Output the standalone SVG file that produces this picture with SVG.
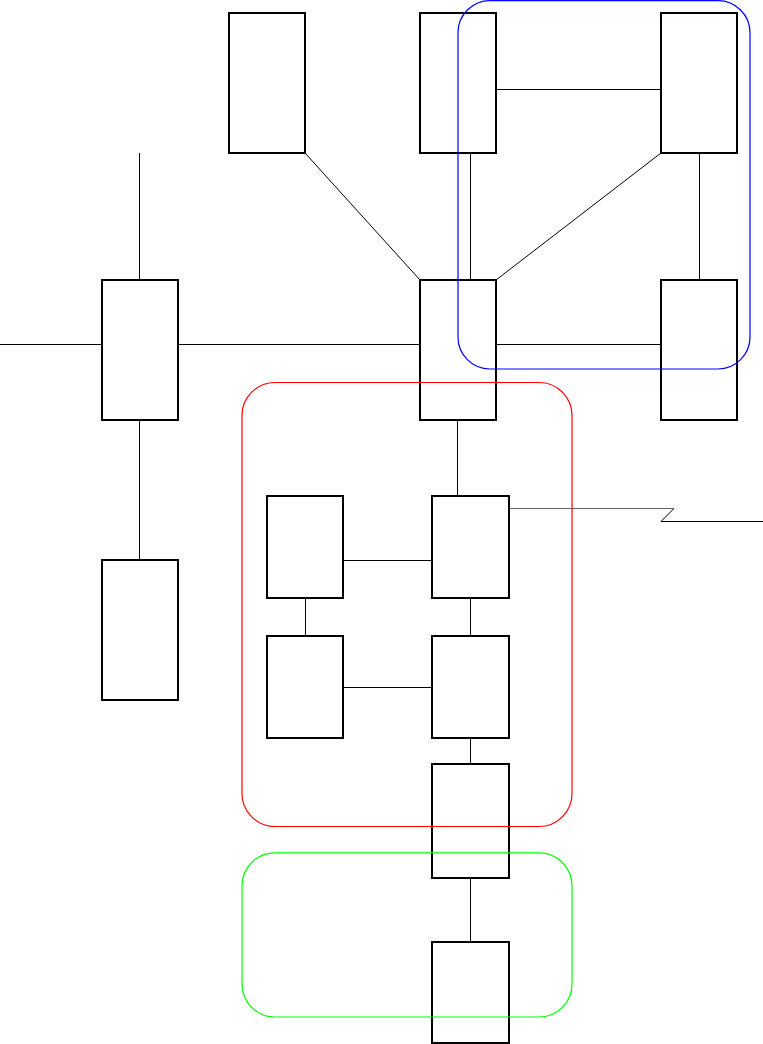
<svg xmlns="http://www.w3.org/2000/svg" width="763" height="1044" viewBox="0 0 763 1044">
<style>
.n{fill:#fff;stroke:#000;stroke-width:2}
.c{stroke:#000;stroke-width:1;fill:none}
.g{fill:none;stroke-width:1.2}
</style>
<rect width="763" height="1044" fill="#fff"/>
<g id="connectors">
<line class="c" x1="139.5" y1="153" x2="139.5" y2="280"/>
<line class="c" x1="0" y1="344.5" x2="102" y2="344.5"/>
<line class="c" x1="178" y1="344.5" x2="420" y2="344.5"/>
<line class="c" x1="139.5" y1="420" x2="139.5" y2="560"/>
<line class="c" x1="305" y1="153" x2="420" y2="280"/>
<line class="c" x1="496" y1="89.5" x2="661" y2="89.5"/>
<line class="c" x1="470.5" y1="153" x2="470.5" y2="280"/>
<line class="c" x1="496" y1="280" x2="661" y2="153"/>
<line class="c" x1="699.5" y1="153" x2="699.5" y2="280"/>
<line class="c" x1="496" y1="344.5" x2="661" y2="344.5"/>
<line class="c" x1="457.5" y1="420" x2="457.5" y2="496"/>
<line class="c" x1="343" y1="560.5" x2="432" y2="560.5"/>
<line class="c" x1="305.5" y1="598" x2="305.5" y2="636"/>
<line class="c" x1="470.5" y1="598" x2="470.5" y2="636"/>
<line class="c" x1="343" y1="687.5" x2="432" y2="687.5"/>
<line class="c" x1="470.5" y1="738" x2="470.5" y2="764"/>
<line class="c" x1="470.5" y1="878" x2="470.5" y2="942"/>
<line x1="509" y1="508.5" x2="674" y2="508.5" stroke="#666" stroke-width="1"/>
<polyline class="c" points="674,508.5 661,521.5 763,521.5"/>
</g>
<g id="n1"><rect class="n" x="229" y="13" width="76" height="140"/></g>
<g id="n2"><rect class="n" x="420" y="13" width="76" height="140"/></g>
<g id="n3"><rect class="n" x="661" y="13" width="76" height="140"/></g>
<g id="n4"><rect class="n" x="102" y="280" width="76" height="140"/></g>
<g id="n5"><rect class="n" x="420" y="280" width="76" height="140"/></g>
<g id="n6"><rect class="n" x="661" y="280" width="76" height="140"/></g>
<g id="n7"><rect class="n" x="102" y="560" width="76" height="140"/></g>
<g id="n8"><rect class="n" x="267" y="496" width="76" height="102"/></g>
<g id="n9"><rect class="n" x="432" y="496" width="77" height="102"/></g>
<g id="n10"><rect class="n" x="267" y="636" width="76" height="102"/></g>
<g id="n11"><rect class="n" x="432" y="636" width="77" height="102"/></g>
<g id="n12"><rect class="n" x="432" y="764" width="77" height="114"/></g>
<g id="n13"><rect class="n" x="432" y="942" width="77" height="101"/></g>
<g id="groups">
<rect class="g" x="458" y="0.6" width="292" height="368.4" rx="32" stroke="#0000ff"/>
<rect class="g" x="242" y="382.5" width="330" height="444" rx="33" stroke="#ff0000"/>
<rect class="g" x="242" y="852.8" width="330" height="164.2" rx="33" stroke="#00ff00"/>
</g>
</svg>
